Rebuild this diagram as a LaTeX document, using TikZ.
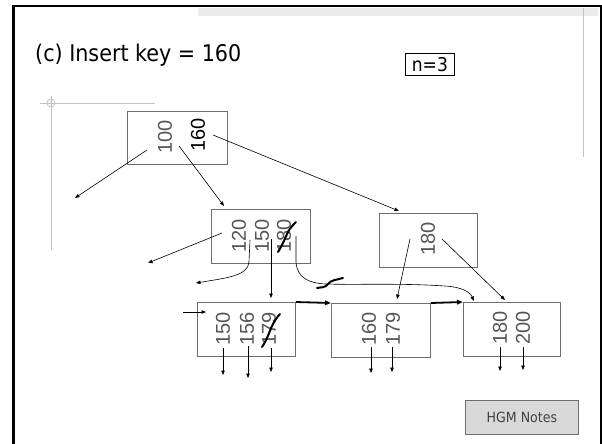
\documentclass[tikz,border=0pt]{standalone}
\usepackage{fontspec}
\setmainfont{Liberation Sans}
\newfontfamily\uifont{DejaVu Sans Condensed}
\usetikzlibrary{arrows.meta}
\definecolor{boxgray}{RGB}{110,110,110}
\definecolor{keygray}{RGB}{85,85,85}
\definecolor{guidegray}{RGB}{195,195,195}
\definecolor{stripgray}{RGB}{236,236,236}
\definecolor{notefill}{RGB}{217,217,217}
\definecolor{notetext}{RGB}{64,64,64}

\begin{document}
\begin{tikzpicture}[x=1pt,y=-1pt,
  boxnode/.style={draw=boxgray, line width=0.8pt, inner sep=0pt, anchor=north west},
  keylabel/.style={rotate=90, inner sep=0pt, text=keygray,
    font=\fontsize{20}{20}\selectfont},
  ptr/.style={-{Triangle[length=4.5pt,width=3.5pt]}, line width=0.6pt},
  seqptr/.style={-{Triangle[length=6pt,width=4.5pt]}, line width=1.8pt},
  strike/.style={line width=2pt, line cap=round},
  guide/.style={draw=guidegray, line width=0.8pt}
]
\useasboundingbox (0,0) rectangle (602,444);
\fill[white] (0,0) rectangle (602,444);

% slide frame and guide marks
\fill[stripgray] (198,8) rectangle (598,16);
\draw[guide] (583,8) -- (583,157);
\draw[guide] (40,103) -- (155,103);
\draw[guide] (51,96) -- (51,250);
\draw[guide] (51,103) circle (4);
\draw[line width=3pt] (13,444) -- (13,6);
\draw[line width=2.2pt] (12,6) -- (601,6);
\draw[line width=2pt] (600.5,5) -- (600.5,444);

% title and order
\node[anchor=base west, inner sep=0pt, font=\uifont\fontsize{23}{23}\selectfont]
  (title) at (35,62) {(c) Insert key = 160};
\node[draw, line width=0.8pt, inner sep=0pt, minimum width=49pt, minimum height=22pt,
  anchor=north west] (order) at (405,53) {};
\node[font=\uifont\fontsize{19}{19}\selectfont, inner sep=0pt] (ordertext)
  at (order.center) {n=3};

% tree nodes
\node[boxnode, minimum width=100pt, minimum height=53pt] (root) at (127,111) {};
\node[boxnode, minimum width=99pt, minimum height=54pt] (midl) at (211,209) {};
\node[boxnode, minimum width=98pt, minimum height=54pt] (midr) at (379,213) {};
\node[boxnode, minimum width=98pt, minimum height=54pt] (leafa) at (197,302) {};
\node[boxnode, minimum width=99pt, minimum height=54pt] (leafb) at (331,303) {};
\node[boxnode, minimum width=97pt, minimum height=54pt] (leafc) at (463,302) {};

% keys
\node[keylabel] (r100) at (165,137) {100};
\node[keylabel, text=black] (r160) at (198,135) {160};
\node[keylabel] (m120) at (239,236) {120};
\node[keylabel] (m150) at (262,236) {150};
\node[keylabel] (m180) at (284,236) {180};
\node[keylabel] (n180) at (428,239) {180};
\node[keylabel] (a150) at (223,329) {150};
\node[keylabel] (a156) at (247,329) {156};
\node[keylabel] (a179) at (269,329) {179};
\node[keylabel] (b160) at (369,329) {160};
\node[keylabel] (b179) at (393,329) {179};
\node[keylabel] (c180) at (500,328) {180};
\node[keylabel] (c200) at (523,328) {200};

% pointer anchor points
\coordinate (p1s) at (147,150); \coordinate (p1e) at (75,198);
\coordinate (p2s) at (179,146); \coordinate (p2e) at (224,206);
\coordinate (p3s) at (213,135); \coordinate (p3e) at (399,211);
\coordinate (q1s) at (222,233); \coordinate (q1e) at (148,263);
\coordinate (q2s) at (250,240); \coordinate (q2e) at (196,283);
\coordinate (q3s) at (271,239); \coordinate (q3e) at (271,298);
\coordinate (q4s) at (296,236); \coordinate (q4e) at (474,301);
\coordinate (s1s) at (410,239); \coordinate (s1e) at (397,299);
\coordinate (s2s) at (442,239); \coordinate (s2e) at (505,300);
\coordinate (inl) at (183,312); \coordinate (inr) at (206,312);

% root pointers
\draw[ptr] (p1s) -- (p1e);
\draw[ptr] (p2s) -- (p2e);
\draw[ptr] (p3s) -- (p3e);

% left inner node pointers
\draw[ptr] (q1s) -- (q1e);
\draw[ptr] (q2s) -- (249,262) .. controls (248,276) and (226,278) .. (q2e);
\draw[ptr] (q3s) -- (q3e);
\draw[ptr] (q4s) -- (296,262) .. controls (297,278) and (309,283) .. (325,284)
  .. controls (360,285) and (400,283) .. (445,286)
  .. controls (462,287) and (470,292) .. (q4e);

% right inner node pointers
\draw[ptr] (s1s) -- (s1e);
\draw[ptr] (s2s) -- (s2e);

% pointer into the first leaf
\draw[ptr] (inl) -- (inr);

% leaf record pointers
\draw[ptr] (223,348) -- (223,375);
\draw[ptr] (248,346) -- (248,378);
\draw[ptr] (271,348) -- (271,372);
\draw[ptr] (371,347) -- (371,373);
\draw[ptr] (392,347) -- (392,372);
\draw[ptr] (500,347) -- (500,371);
\draw[ptr] (523,347) -- (523,370);

% sequence pointers between leaves
\draw[seqptr] (leafa.north east) -- (leafb.north west);
\draw[seqptr] (leafb.north east) -- (leafc.north west);

% crossed-out entries
\draw[strike] (278,252) .. controls (283,244) and (286,236) .. (288,232)
  .. controls (290,228) and (293,225) .. (296,222);
\draw[strike] (262,347) .. controls (267,340) and (270,330) .. (272,326)
  .. controls (274,322) and (277,317) .. (280,314);
\draw[strike] (317,288) .. controls (322,287) and (325,288) .. (328,284)
  .. controls (331,280) and (336,280) .. (343,278);

% footer note
\node[draw=boxgray, fill=notefill, line width=0.8pt, inner sep=0pt,
  minimum width=113pt, minimum height=34pt, anchor=north west] (note) at (465,400) {};
\node[font=\uifont\fontsize{14}{14}\selectfont, text=notetext, inner sep=0pt]
  (notetext) at (note.center) {HGM Notes};
\end{tikzpicture}
\end{document}
